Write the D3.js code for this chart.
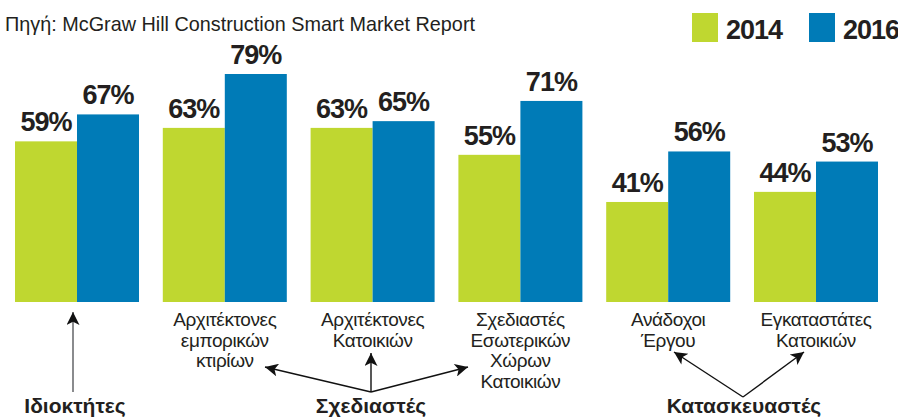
<!DOCTYPE html>
<html>
<head>
<meta charset="utf-8">
<script src="https://cdn.jsdelivr.net/npm/d3@7"></script>
<style>
  body { margin: 0; background: #fff; }
  svg { display: block; }
</style>
</head>
<body>
<div id="wrapper"></div>
<script>
// data
const categories = ["owners", "archCommercial", "archResidential", "interior", "contractors", "installers"];
const categoryLabels = [
    [],
    ["Αρχιτέκτονες", "εμπορικών", "κτιρίων"],
    ["Αρχιτέκτονες", "Κατοικιών"],
    ["Σχεδιαστές", "Εσωτερικών", "Χώρων", "Κατοικιών"],
    ["Ανάδοχοι", "Έργου"],
    ["Εγκαταστάτες", "Κατοικιών"]
];
const years = ["2014", "2016"];
const values2014 = [59, 63, 63, 55, 41, 44];
const values2016 = [67, 79, 65, 71, 56, 53];
const groupNames = ["Ιδιοκτήτες", "Σχεδιαστές", "Κατασκευαστές"];
const sourceText = "Πηγή: McGraw Hill Construction Smart Market Report";

const colors = { "2014": "#bfd730", "2016": "#007bb7" };
const ink = "#231f20";
const font = "Liberation Sans, Arial, sans-serif";

function drawChart() {
    const width = 898, height = 417;
    const baseline = 302;

    const wrapper = d3.select("#wrapper")
        .html("")
        .append("svg")
        .attr("width", width)
        .attr("height", height);

    const defs = wrapper.append("defs");
    defs.append("marker")
        .attr("id", "arrow")
        .attr("viewBox", "0 -5 10 10")
        .attr("refX", 10)
        .attr("refY", 0)
        .attr("markerUnits", "userSpaceOnUse")
        .attr("markerWidth", 22)
        .attr("markerHeight", 13)
        .attr("orient", "auto")
        .append("path")
        .attr("d", "M0,-5L10,0L0,5L2.5,0Z")
        .attr("fill", "#111");

    // scales
    const x0 = d3.scaleBand()
        .domain(categories)
        .range([15, 878])
        .paddingInner(0.161)
        .paddingOuter(0);

    const x1 = d3.scaleBand()
        .domain(years)
        .range([0, x0.bandwidth()])
        .padding(0);

    const y = d3.scaleLinear()
        .domain([11.3, 79])
        .range([baseline, 74]);

    const rows = categories.map((c, i) => ({
        key: c,
        labels: categoryLabels[i],
        vals: [
            { year: "2014", v: values2014[i] },
            { year: "2016", v: values2016[i] }
        ]
    }));

    const groups = wrapper.append("g")
        .selectAll("g")
        .data(rows)
        .join("g")
        .attr("transform", d => `translate(${x0(d.key)},0)`);

    groups.selectAll("rect")
        .data(d => d.vals)
        .join("rect")
        .attr("x", d => x1(d.year))
        .attr("y", d => y(d.v))
        .attr("width", x1.bandwidth())
        .attr("height", d => baseline - y(d.v))
        .attr("fill", d => colors[d.year]);

    groups.selectAll("text.pct")
        .data(d => d.vals)
        .join("text")
        .attr("class", "pct")
        .attr("x", d => x1(d.year) + x1.bandwidth() / 2)
        .attr("y", d => y(d.v) - 10)
        .attr("text-anchor", "middle")
        .attr("font-family", font)
        .attr("font-weight", "bold")
        .attr("font-size", "27px")
        .attr("letter-spacing", "-1px")
        .attr("fill", ink)
        .text(d => d.v + "%");

    // category labels
    groups.append("text")
        .attr("x", x0.bandwidth() / 2)
        .attr("y", baseline + 24)
        .attr("text-anchor", "middle")
        .attr("font-family", font)
        .attr("font-size", "19px")
        .attr("letter-spacing", "-0.4px")
        .attr("fill", ink)
        .selectAll("tspan")
        .data(d => d.labels)
        .join("tspan")
        .attr("x", x0.bandwidth() / 2)
        .attr("dy", (d, i) => i === 0 ? 0 : 20.5)
        .text(d => d);

    // source
    wrapper.append("text")
        .attr("x", 5)
        .attr("y", 31)
        .attr("font-family", font)
        .attr("font-size", "21px")
        .attr("textLength", 470)
        .attr("lengthAdjust", "spacingAndGlyphs")
        .attr("fill", ink)
        .text(sourceText);

    // legend
    const legendX = [692, 809];
    const legend = wrapper.append("g")
        .selectAll("g")
        .data(years)
        .join("g")
        .attr("transform", (d, i) => `translate(${legendX[i]},13)`);
    legend.append("rect")
        .attr("width", 26)
        .attr("height", 29)
        .attr("fill", d => colors[d]);
    legend.append("text")
        .attr("x", 34)
        .attr("y", 26)
        .attr("font-family", font)
        .attr("font-weight", "bold")
        .attr("font-size", "27px")
        .attr("letter-spacing", "-1px")
        .attr("fill", ink)
        .text(d => d);

    // annotation arrows
    const arrows = wrapper.append("g");

    // owners
    arrows.append("line")
        .attr("x1", 73).attr("y1", 392)
        .attr("x2", 73).attr("y2", 312)
        .attr("stroke", "#6d6e71")
        .attr("stroke-width", 1.6)
        .attr("marker-end", "url(#arrow)");

    // designers
    const dOrigin = [371, 392];
    const dTargets = [[265, 367], [371, 353], [468, 367]];
    dTargets.forEach(t => {
        arrows.append("line")
            .attr("x1", dOrigin[0]).attr("y1", dOrigin[1])
            .attr("x2", t[0]).attr("y2", t[1])
            .attr("stroke", "#111")
            .attr("stroke-width", 1.4)
            .attr("marker-end", "url(#arrow)");
    });

    // builders
    const bOrigin = [743, 397];
    const bTargets = [[674, 352], [804, 352]];
    bTargets.forEach(t => {
        arrows.append("line")
            .attr("x1", bOrigin[0]).attr("y1", bOrigin[1])
            .attr("x2", t[0]).attr("y2", t[1])
            .attr("stroke", "#111")
            .attr("stroke-width", 1.4)
            .attr("marker-end", "url(#arrow)");
    });

    // group names
    const groupX = [75, 371, 744];
    wrapper.append("g")
        .selectAll("text")
        .data(groupNames)
        .join("text")
        .attr("x", (d, i) => groupX[i])
        .attr("y", 413)
        .attr("text-anchor", "middle")
        .attr("font-family", font)
        .attr("font-weight", "bold")
        .attr("font-size", "21px")
        .attr("fill", ink)
        .text(d => d);
}

drawChart();
</script>
</body>
</html>
